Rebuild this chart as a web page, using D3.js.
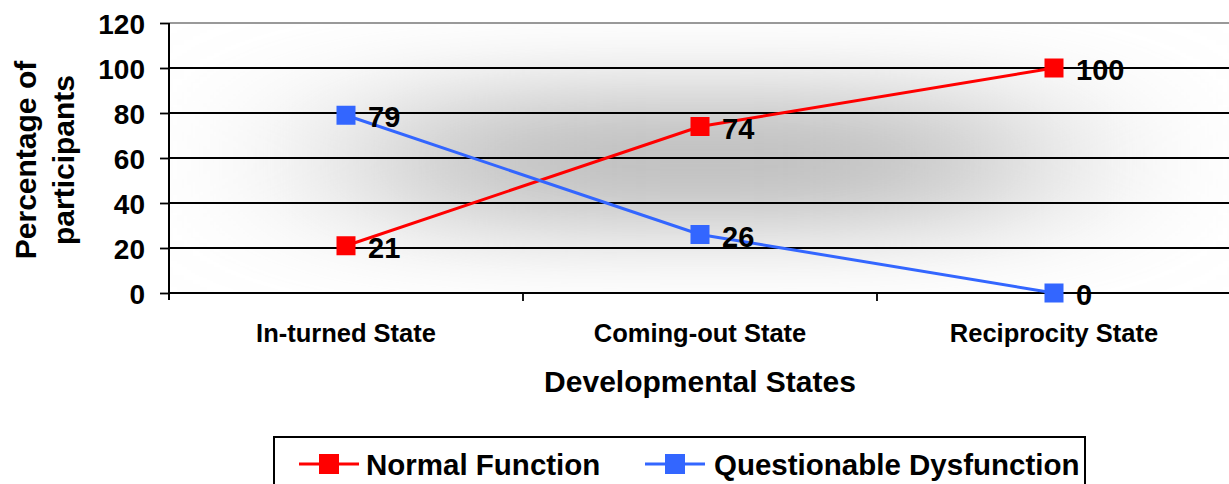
<!DOCTYPE html>
<html><head><meta charset="utf-8">
<script src="https://cdn.jsdelivr.net/npm/d3@7/dist/d3.min.js"></script>
<style>body{margin:0;background:#fff;} svg{display:block;font-family:"Liberation Sans",Arial,sans-serif;font-weight:bold;}</style>
</head><body>
<svg id="c" width="1229" height="484"></svg>
<script>
const categories = ["In-turned State", "Coming-out State", "Reciprocity State"];
const normalFunction = [21, 74, 100];
const questionableDysfunction = [79, 26, 0];
const yTicks = [0, 20, 40, 60, 80, 100, 120];
const seriesNames = ["Normal Function", "Questionable Dysfunction"];
const seriesColors = ["#ff0000", "#3366ff"];

(function(){
const FF = "Liberation Sans, Arial, sans-serif";
const svg = d3.select("#c");
const pL = 169, pR = 1231, pT = 23, pB = 293;
const x = d3.scaleBand().domain(categories).range([pL, pR]);
const y = d3.scaleLinear().domain([0, 120]).range([pB, pT]);

const defs = svg.append("defs");
defs.append("clipPath").attr("id","plotclip").append("rect")
  .attr("x", pL).attr("y", pT).attr("width", pR-pL).attr("height", pB-pT);
defs.append("filter").attr("id","soft").attr("filterUnits","userSpaceOnUse")
  .attr("x", 0).attr("y", -200).attr("width", 1500).attr("height", 700)
  .append("feGaussianBlur").attr("stdDeviation","115 42");

svg.append("rect").attr("x", pL).attr("y", pT).attr("width", pR-pL).attr("height", pB-pT).attr("fill","#fff");
svg.append("g").attr("clip-path","url(#plotclip)")
  .append("rect").attr("x", 380).attr("y", 92).attr("width", 640).attr("height", 136)
  .attr("fill","#bdbdbd").attr("filter","url(#soft)");

// gridlines
svg.append("g").selectAll("line").data(yTicks).join("line")
  .attr("x1", pL).attr("x2", pR).attr("y1", d=>y(d)).attr("y2", d=>y(d))
  .attr("stroke", d => d === 120 ? "#777" : "#000").attr("stroke-width", d => d === 120 ? 1.5 : 1.8);

// y axis
const ya = svg.append("g").attr("transform",`translate(${pL},0)`)
  .call(d3.axisLeft(y).tickValues(yTicks).tickSize(9).tickPadding(15));
ya.select(".domain").attr("d", `M0,${pT}V${pB+7}`).attr("stroke","#000").attr("stroke-width",2);
ya.selectAll(".tick line").attr("stroke","#000").attr("stroke-width",1.8);
ya.selectAll(".tick text").attr("font-size",28).attr("font-weight","bold").attr("fill","#000").attr("font-family",FF).attr("dy","0.36em");

// x axis
const xa = svg.append("g").attr("transform",`translate(0,${pB})`)
  .call(d3.axisBottom(x).tickSize(0));
xa.select(".domain").remove();
xa.selectAll(".tick text").attr("font-size",25.5).attr("font-weight","bold").attr("fill","#000").attr("font-family",FF)
  .attr("y", 49).attr("dy", 0);
const bounds = categories.map(c=>x(c)).concat([x(categories[categories.length-1])+x.bandwidth()]);
svg.append("g").selectAll("line").data(bounds.slice(1)).join("line")
  .attr("x1", d=>d).attr("x2", d=>d).attr("y1", pB).attr("y2", pB+8)
  .attr("stroke","#000").attr("stroke-width",1.8);
svg.append("line").attr("x1", pL).attr("x2", pR).attr("y1", pB).attr("y2", pB).attr("stroke","#000").attr("stroke-width",2);

// titles
svg.append("text").attr("x", 700).attr("y", 392).attr("text-anchor","middle").attr("font-size",30).text("Developmental States");
const yt = svg.append("text").attr("transform","rotate(-90)").attr("text-anchor","middle").attr("font-size",30);
yt.append("tspan").attr("x", -160).attr("y", 36).text("Percentage of");
yt.append("tspan").attr("x", -160).attr("y", 74).text("participants");

// series
const series = [normalFunction, questionableDysfunction];
const cx = c => x(c) + x.bandwidth()/2;
series.forEach((vals, i) => {
  const pts = categories.map((c, j) => [cx(c), y(vals[j]), vals[j]]);
  svg.append("path").attr("d", d3.line()(pts.map(p=>[p[0],p[1]])))
    .attr("fill","none").attr("stroke", seriesColors[i]).attr("stroke-width",3);
  svg.append("g").selectAll("rect").data(pts).join("rect")
    .attr("x", p=>p[0]-9.5).attr("y", p=>p[1]-9.5).attr("width",19).attr("height",19).attr("fill", seriesColors[i]);
  svg.append("g").selectAll("text").data(pts).join("text")
    .attr("x", p=>p[0]+22).attr("y", p=>p[1]+12).attr("font-size",29).attr("fill","#000").text(p=>p[2]);
});

// legend
svg.append("rect").attr("x", 274).attr("y", 437).attr("width", 811).attr("height", 60)
  .attr("fill","#fff").attr("stroke","#000").attr("stroke-width",2);
const legItems = [{x:299, tx:366}, {x:645, tx:714}];
legItems.forEach((it, i) => {
  svg.append("line").attr("x1", it.x).attr("x2", it.x+60).attr("y1", 464).attr("y2", 464).attr("stroke", seriesColors[i]).attr("stroke-width",3);
  svg.append("rect").attr("x", it.x+20).attr("y", 454).attr("width",20).attr("height",20).attr("fill", seriesColors[i]);
  svg.append("text").attr("x", it.tx).attr("y", 475).attr("font-size",29.5).attr("fill","#000").text(seriesNames[i]);
});
})();
</script>
</body></html>
